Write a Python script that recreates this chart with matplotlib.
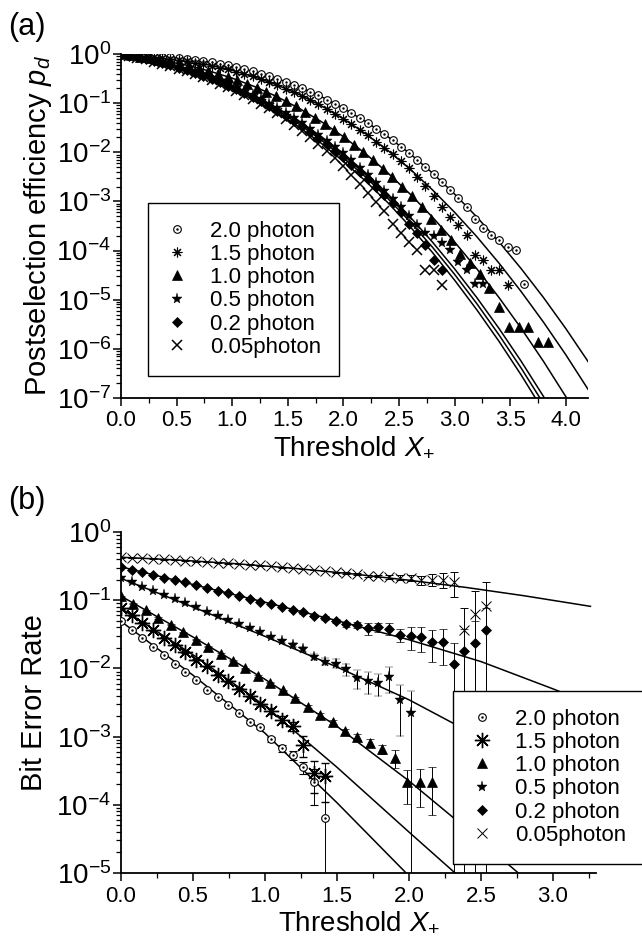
import numpy as np
import matplotlib
matplotlib.use('Agg')
import matplotlib.pyplot as plt
from matplotlib.lines import Line2D
from matplotlib.legend_handler import HandlerTuple
from matplotlib.ticker import LogLocator, AutoMinorLocator, FormatStrFormatter, NullFormatter, FixedLocator

plt.rcParams['font.family'] = ['Liberation Sans', 'DejaVu Sans']
plt.rcParams['mathtext.fontset'] = 'custom'
plt.rcParams['mathtext.rm'] = 'Liberation Sans'
plt.rcParams['mathtext.it'] = 'Liberation Sans:italic'

labels = ['2.0 photon', '1.5 photon', '1.0 photon', '0.5 photon', '0.2 photon', '0.05photon']

# ---------- (a) postselection efficiency, log10 values ----------
step_a = 0.074      # threshold bin width (triangles use a wider one)
step_a_tri = 0.0872
pd_20 = [-0.01, -0.010, -0.019, -0.030, -0.042, -0.054, -0.069, -0.086, -0.102, -0.124,
         -0.147, -0.172, -0.203, -0.234, -0.270, -0.310, -0.350, -0.399, -0.449, -0.501,
         -0.564, -0.626, -0.693, -0.768, -0.842, -0.926, -1.014, -1.102, -1.201, -1.301,
         -1.405, -1.519, -1.633, -1.755, -1.883, -2.012, -2.154, -2.299, -2.446, -2.605,
         -2.764, -2.929, -3.11, -3.35, -3.55, -3.69, -3.79, -3.92, -3.99, -4.69]
pd_15 = [-0.01, -0.014, -0.029, -0.044, -0.062, -0.079, -0.100, -0.123, -0.146, -0.175,
         -0.205, -0.235, -0.275, -0.314, -0.358, -0.407, -0.455, -0.513, -0.573, -0.634,
         -0.706, -0.777, -0.854, -0.937, -1.024, -1.118, -1.216, -1.314, -1.427, -1.540,
         -1.657, -1.783, -1.909, -2.043, -2.183, -2.323, -2.50, -2.68, -2.88, -3.11,
         -3.31, -3.48, -3.69, -4.09, -4.20, -4.40, -4.40, -4.70]
pd_10 = [-0.01, -0.028, -0.056, -0.088, -0.121, -0.158, -0.198, -0.240, -0.291, -0.341,
         -0.401, -0.462, -0.531, -0.605, -0.683, -0.772, -0.860, -0.963, -1.067, -1.180,
         -1.298, -1.422, -1.556, -1.692, -1.843, -1.994, -2.160, -2.331, -2.510, -2.697,
         -2.887, -3.11, -3.35, -3.58, -3.79, -4.06, -4.26, -4.47, -4.77, -5.15,
         -5.55, -5.55, -5.55, -5.86, -5.86]
pd_05 = [-0.01, -0.033, -0.065, -0.100, -0.138, -0.177, -0.221, -0.267, -0.314, -0.368,
         -0.423, -0.480, -0.547, -0.612, -0.684, -0.761, -0.838, -0.925, -1.015, -1.105,
         -1.206, -1.306, -1.412, -1.527, -1.642, -1.766, -1.894, -2.022, -2.167, -2.313,
         -2.463, -2.622, -2.781, -2.948, -3.120, -3.293, -3.479, -3.65, -3.71, -3.84,
         -3.99, -4.23, -4.39, -4.69, -4.69]
pd_02 = [-0.01, -0.034, -0.068, -0.104, -0.145, -0.186, -0.232, -0.281, -0.330, -0.388,
         -0.446, -0.507, -0.576, -0.645, -0.719, -0.799, -0.878, -0.966, -1.058, -1.150,
         -1.256, -1.361, -1.471, -1.591, -1.711, -1.840, -1.973, -2.106, -2.252, -2.398,
         -2.549, -2.710, -2.871, -3.041, -3.21, -3.45, -3.65, -3.89, -4.20, -4.40]
pd_005 = [-0.01, -0.036, -0.072, -0.110, -0.153, -0.196, -0.245, -0.297, -0.348, -0.408,
          -0.468, -0.533, -0.603, -0.673, -0.751, -0.834, -0.917, -1.010, -1.105, -1.202,
          -1.32, -1.44, -1.56, -1.69, -1.83, -1.97, -2.12, -2.28, -2.46, -2.65,
          -2.83, -3.02, -3.20, -3.45, -3.65, -3.82, -3.99, -4.40, -4.40, -4.70]

# fitted curves of (a)
fit_x_a = [0.0, 0.2, 0.4, 0.6, 0.8, 1.0, 1.2, 1.4, 1.6, 1.8, 2.0,
           2.2, 2.4, 2.6, 2.8, 3.0, 3.2, 3.4, 3.6, 3.8, 4.0, 4.2]
fit_20 = [0, -0.026, -0.059, -0.104, -0.166, -0.250, -0.359, -0.496, -0.665, -0.866, -1.104,
          -1.374, -1.682, -2.029, -2.42, -2.85, -3.316, -3.824, -4.371, -4.957, -5.586, -6.256]
fit_15 = [0, -0.039, -0.086, -0.148, -0.229, -0.334, -0.466, -0.628, -0.822, -1.052, -1.317,
          -1.623, -1.963, -2.342, -2.762, -3.221, -3.717, -4.257, -4.838, -5.458, -6.119, -6.822]
fit_10 = [0, -0.064, -0.141, -0.234, -0.350, -0.491, -0.662, -0.865, -1.103, -1.374, -1.682,
          -2.029, -2.42, -2.85, -3.316, -3.824, -4.371, -4.957, -5.586, -6.256, -6.970, -7.72]
fit_05 = [0, -0.088, -0.193, -0.319, -0.468, -0.646, -0.855, -1.097, -1.369, -1.679, -2.025,
          -2.42, -2.850, -3.316, -3.824, -4.371, -4.957, -5.586, -6.256, -6.970, -7.72, -9.0]
fit_02 = [0, -0.092, -0.203, -0.336, -0.494, -0.680, -0.895, -1.142, -1.426, -1.750, -2.110,
          -2.505, -2.941, -3.415, -3.928, -4.483, -5.080, -5.718, -6.396, -7.115, -7.87, -8.7]
fit_005 = [0, -0.097, -0.214, -0.353, -0.518, -0.710, -0.935, -1.193, -1.485, -1.815, -2.183,
           -2.587, -3.025, -3.513, -4.036, -4.601, -5.205, -5.848, -6.536, -7.267, -8.04, -8.9]

# ---------- (b) bit error rate, log10 values and relative error bars ----------
step_b = 0.0745
step_b_tri = 0.0864
ber_20 = [-1.31, -1.44, -1.55, -1.68, -1.81, -1.93, -2.06, -2.17, -2.31, -2.42,
          -2.54, -2.66, -2.78, -2.86, -3.04, -3.17, -3.27, -3.45, -3.66, -4.19]
rerr_20 = [0.03, 0.03, 0.03, 0.03, 0.03, 0.03, 0.03, 0.03, 0.03, 0.03,
           0.03, 0.03, 0.04, 0.05, 0.08, 0.12, 0.15, 0.2, 0.55, 3.0]
ber_15 = [-1.12, -1.22, -1.33, -1.44, -1.55, -1.65, -1.76, -1.87, -1.97, -2.09,
          -2.19, -2.30, -2.40, -2.52, -2.62, -2.75, -2.85, -3.12, -3.53, -3.58]
rerr_15 = [0.02, 0.02, 0.02, 0.02, 0.02, 0.02, 0.02, 0.02, 0.02, 0.02,
           0.02, 0.02, 0.05, 0.06, 0.1, 0.12, 0.15, 0.33, 0.5, 0.58]
ber_10 = [-0.94, -1.05, -1.15, -1.26, -1.36, -1.47, -1.58, -1.68, -1.79, -1.89,
          -2.00, -2.11, -2.21, -2.32, -2.43, -2.56, -2.68, -2.78, -2.92, -3.01,
          -3.09, -3.18, -3.31, -3.67, -3.67, -3.67]
rerr_10 = [0.02, 0.02, 0.02, 0.02, 0.02, 0.02, 0.02, 0.02, 0.02, 0.02,
           0.02, 0.02, 0.02, 0.02, 0.04, 0.05, 0.06, 0.07, 0.08, 0.1,
           0.12, 0.15, 0.3, 0.52, 0.57, 0.67]
ber_05 = [-0.68, -0.74, -0.80, -0.86, -0.92, -0.98, -1.04, -1.10, -1.17, -1.23,
          -1.29, -1.35, -1.41, -1.47, -1.54, -1.60, -1.66, -1.72, -1.83, -1.90,
          -1.93, -2.01, -2.14, -2.19, -2.21, -2.13, -2.47, -2.65]
rerr_05 = [0.02, 0.02, 0.02, 0.02, 0.02, 0.02, 0.02, 0.02, 0.02, 0.02,
           0.02, 0.02, 0.02, 0.03, 0.04, 0.05, 0.06, 0.08, 0.1, 0.12,
           0.15, 0.2, 0.3, 0.35, 0.36, 0.42, 0.7, 1.05]
ber_02 = [-0.51, -0.55, -0.59, -0.63, -0.67, -0.70, -0.74, -0.78, -0.82, -0.86,
          -0.90, -0.94, -0.98, -1.02, -1.06, -1.10, -1.14, -1.18, -1.225, -1.26,
          -1.30, -1.35, -1.36, -1.41, -1.39, -1.42, -1.51, -1.53, -1.54, -1.61,
          -1.61, -1.93, -1.74, -1.63, -1.44]
rerr_02 = [0.02, 0.02, 0.02, 0.02, 0.02, 0.02, 0.02, 0.02, 0.02, 0.02,
           0.02, 0.02, 0.02, 0.02, 0.02, 0.02, 0.03, 0.04, 0.05, 0.06,
           0.07, 0.08, 0.1, 0.2, 0.15, 0.2, 0.22, 0.37, 0.4, 0.5,
           0.55, 1.0, 1.1, 1.1, 1.1]
ber_005 = [-0.37, -0.38, -0.38, -0.39, -0.40, -0.41, -0.42, -0.43, -0.44, -0.45,
           -0.46, -0.47, -0.48, -0.49, -0.50, -0.52, -0.53, -0.54, -0.56, -0.57,
           -0.59, -0.60, -0.62, -0.64, -0.65, -0.66, -0.67, -0.67, -0.70, -0.70,
           -0.70, -0.73, -1.44, -1.20, -1.08]
rerr_005 = [0.01, 0.01, 0.01, 0.01, 0.01, 0.01, 0.01, 0.01, 0.01, 0.01,
            0.01, 0.01, 0.01, 0.01, 0.01, 0.01, 0.01, 0.01, 0.01, 0.01,
            0.01, 0.03, 0.03, 0.03, 0.03, 0.06, 0.08, 0.1, 0.15, 0.2,
            0.25, 0.41, 1.1, 1.15, 1.2]

# fitted lines of (b)
lx_20 = [0, 0.5, 1.0, 1.5, 1.98, 2.2]
ly_20 = [-1.31, -2.1, -2.95, -3.97, -5.0, -5.5]
lx_15 = [0, 0.5, 1.0, 1.5, 2.0, 2.32, 2.5]
ly_15 = [-1.12, -1.80, -2.55, -3.45, -4.4, -5.0, -5.35]
lx_10 = [0, 0.5, 1.0, 1.5, 2.0, 2.32, 3.26]
ly_10 = [-0.94, -1.54, -2.16, -2.85, -3.65, -4.21, -5.9]
lx_05 = [0, 0.5, 1.0, 1.5, 2.0, 2.33, 3.26]
ly_05 = [-0.68, -1.10, -1.53, -1.98, -2.46, -2.83, -3.95]
lx_02 = [0, 0.5, 1.0, 1.5, 2.0, 2.5, 3.0, 3.26]
ly_02 = [-0.51, -0.77, -1.03, -1.30, -1.58, -1.90, -2.30, -2.52]
lx_005 = [0, 0.4, 0.8, 1.2, 1.6, 2.0, 2.4, 2.8, 3.26]
ly_005 = [-0.370, -0.411, -0.465, -0.532, -0.613, -0.707, -0.814, -0.935, -1.09]

# marker styles per series
sty_a = [dict(marker='o', ms=5.5, mfc='white', mec='k', mew=0.8),
         dict(marker=(8, 2, 0), ms=7, mfc='k', mec='k', mew=0.8),
         dict(marker='^', ms=6.5, mfc='k', mec='k', mew=0.5),
         dict(marker='*', ms=8, mfc='k', mec='k', mew=0.3),
         dict(marker='D', ms=5, mfc='k', mec='k', mew=0.5),
         dict(marker='x', ms=6.5, mfc='k', mec='k', mew=1.1)]
sty_b = [dict(marker='o', ms=5.5, mfc='white', mec='k', mew=0.8),
         dict(marker=(8, 2, 0), ms=11, mfc='k', mec='k', mew=1.0),
         dict(marker='^', ms=6.5, mfc='k', mec='k', mew=0.5),
         dict(marker='*', ms=8, mfc='k', mec='k', mew=0.3),
         dict(marker='D', ms=5.5, mfc='k', mec='k', mew=0.5),
         dict(marker='x', ms=6.5, mfc='k', mec='k', mew=0.7)]

fig = plt.figure(figsize=(6.42, 9.47), dpi=100)
ax1 = fig.add_axes([121/642, 1-398/947, 467/642, 344/947])
ax2 = fig.add_axes([121/642, 1-873/947, 3.3*144/642, 341/947])


def style_axes(ax):
    for s in ['top', 'right']:
        ax.spines[s].set_visible(False)
    for s in ['left', 'bottom']:
        ax.spines[s].set_linewidth(1.3)
    ax.set_yscale('log')
    ax.yaxis.set_major_locator(LogLocator(base=10, numticks=12))
    ax.yaxis.set_minor_locator(LogLocator(base=10, subs=np.arange(2, 10), numticks=12))
    ax.yaxis.set_minor_formatter(NullFormatter())
    ax.xaxis.set_minor_locator(AutoMinorLocator(2))
    ax.xaxis.set_major_formatter(FormatStrFormatter('%.1f'))
    ax.tick_params(axis='both', which='major', direction='out', length=6, width=1.1)
    ax.tick_params(axis='both', which='minor', direction='out', length=3.5, width=0.9)
    ax.tick_params(axis='x', labelsize=16, pad=3)
    ax.tick_params(axis='y', labelsize=20, pad=1)


# ----- panel (a)
xs_a = [step_a, step_a, step_a_tri, step_a, step_a, step_a]
pd_all = [pd_20, pd_15, pd_10, pd_05, pd_02, pd_005]
fit_all = [fit_20, fit_15, fit_10, fit_05, fit_02, fit_005]
for fy in fit_all:
    ax1.plot(fit_x_a, 10**np.array(fy), '-', color='k', lw=1.1, zorder=2)
for st, vals, sty in zip(xs_a, pd_all, sty_a):
    x = st*np.arange(len(vals))
    ax1.plot(x, 10**np.array(vals), ls='none', zorder=3, **sty)
ax1.plot(step_a*np.arange(len(pd_20)), 10**np.array(pd_20), ls='none', marker='.', ms=1.5,
         color='k', zorder=4)

style_axes(ax1)
ax1.set_xlim(0, 4.2)
ax1.set_ylim(1e-7, 1)
ax1.set_xticks(np.arange(0, 4.01, 0.5))
ax1.set_xlabel('Threshold $X_{+}$', fontsize=20, labelpad=2)
ax1.set_ylabel('Postselection efficiency $p_{d}$', fontsize=21, labelpad=2)


def legend_handles(stys):
    hs = []
    for i, sty in enumerate(stys):
        h = Line2D([], [], ls='none', **sty)
        if i == 0:
            h = (h, Line2D([], [], ls='none', marker='.', ms=1.5, color='k'))
        hs.append(h)
    return hs


leg_kw = dict(loc='upper left', fontsize=16, frameon=True, fancybox=False, framealpha=1,
              edgecolor='k', borderpad=0.8, handlelength=1.0, handletextpad=1.0,
              labelspacing=0.1, borderaxespad=0, bbox_transform=fig.transFigure,
              handler_map={tuple: HandlerTuple(ndivide=1)})
leg1 = ax1.legend(legend_handles(sty_a), labels, bbox_to_anchor=(148/642, 1-203/947), **leg_kw)
leg1.get_frame().set_linewidth(1.0)

# ----- panel (b)
xs_b = [step_b, step_b, step_b_tri, step_b, step_b, step_b]
ber_all = [ber_20, ber_15, ber_10, ber_05, ber_02, ber_005]
rerr_all = [rerr_20, rerr_15, rerr_10, rerr_05, rerr_02, rerr_005]
lines_b = [(lx_20, ly_20), (lx_15, ly_15), (lx_10, ly_10),
           (lx_05, ly_05), (lx_02, ly_02), (lx_005, ly_005)]
for lx, ly in lines_b:
    ax2.plot(lx, 10**np.array(ly), '-', color='k', lw=1.1, zorder=2)
for st, vals, rerr, sty in zip(xs_b, ber_all, rerr_all, sty_b):
    x = st*np.arange(len(vals))
    y = 10**np.array(vals)
    ax2.errorbar(x, y, yerr=y*np.array(rerr), ls='none', ecolor='k', elinewidth=0.7,
                 capsize=3, capthick=0.7, zorder=3, **sty)
ax2.plot(step_b*np.arange(len(ber_20)), 10**np.array(ber_20), ls='none', marker='.', ms=1.5,
         color='k', zorder=4)

style_axes(ax2)
ax2.set_xlim(0, 3.3)
ax2.set_ylim(1e-5, 1)
ax2.set_xticks(np.arange(0, 3.01, 0.5))
ax2.set_xlabel('Threshold $X_{+}$', fontsize=20, labelpad=2)
ax2.set_ylabel('Bit Error Rate', fontsize=21, labelpad=6)
leg2 = ax2.legend(legend_handles(sty_b), labels, bbox_to_anchor=(453/642, 1-691/947), **leg_kw)
leg2.get_frame().set_linewidth(1.0)
leg2.set_zorder(10)

fig.text(8/642, 1-12/947, '(a)', fontsize=22, va='top', ha='left')
fig.text(8/642, 1-486/947, '(b)', fontsize=22, va='top', ha='left')

fig.savefig('out.png', dpi=100)
